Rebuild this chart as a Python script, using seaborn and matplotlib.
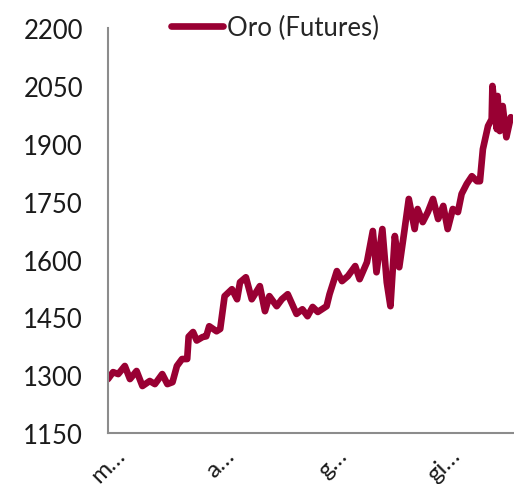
import pandas as pd
import numpy as np
import matplotlib.pyplot as plt
import matplotlib.transforms as mtransforms
import seaborn as sns

# Dati (prezzo future oro, USD/oz)
date = ['2019-03-01', '2019-03-08', '2019-03-15', '2019-03-24', '2019-03-31',
        '2019-04-09', '2019-04-17', '2019-04-27', '2019-05-04', '2019-05-14',
        '2019-05-21', '2019-05-28', '2019-06-03', '2019-06-10', '2019-06-17',
        '2019-06-19', '2019-06-25', '2019-06-30', '2019-07-08', '2019-07-13',
        '2019-07-17', '2019-07-27', '2019-08-01', '2019-08-07', '2019-08-17',
        '2019-08-24', '2019-08-28', '2019-09-05', '2019-09-13', '2019-09-24',
        '2019-10-01', '2019-10-07', '2019-10-17', '2019-10-24', '2019-11-01',
        '2019-11-13', '2019-11-21', '2019-11-28', '2019-12-05', '2019-12-12',
        '2019-12-24', '2019-12-28', '2020-01-07', '2020-01-14', '2020-01-22',
        '2020-02-01', '2020-02-07', '2020-02-17', '2020-02-25', '2020-03-01',
        '2020-03-09', '2020-03-15', '2020-03-20', '2020-03-26', '2020-04-01',
        '2020-04-08', '2020-04-14', '2020-04-22', '2020-04-26', '2020-05-03',
        '2020-05-10', '2020-05-17', '2020-05-24', '2020-05-31', '2020-06-06',
        '2020-06-13', '2020-06-20', '2020-06-25', '2020-07-02', '2020-07-09',
        '2020-07-16', '2020-07-20', '2020-07-24', '2020-07-31', '2020-08-05',
        '2020-08-06', '2020-08-12', '2020-08-13', '2020-08-16', '2020-08-20',
        '2020-08-25', '2020-08-31']
oro = [1290, 1308, 1303, 1324, 1290,
       1311, 1272, 1285, 1277, 1303,
       1277, 1282, 1324, 1342, 1342,
       1400, 1412, 1390, 1399, 1401,
       1427, 1414, 1420, 1505, 1523,
       1497, 1541, 1554, 1497, 1531,
       1466, 1505, 1479, 1497, 1510,
       1459, 1471, 1453, 1477, 1464,
       1479, 1510, 1570, 1544, 1557,
       1583, 1549, 1593, 1674, 1567,
       1679, 1541, 1479, 1661, 1580,
       1674, 1757, 1679, 1731, 1697,
       1723, 1757, 1705, 1739, 1679,
       1731, 1723, 1770, 1796, 1816,
       1803, 1803, 1886, 1946, 1964,
       2050, 1938, 2024, 1933, 1998,
       1917, 1969]
tick_date = ['2019-03-01', '2019-08-01', '2020-01-01', '2020-06-01']
tick_lab = ['m…', 'a…', 'g…', 'gi…']
y_ticks = [1150, 1300, 1450, 1600, 1750, 1900, 2050, 2200]

df = pd.DataFrame({'Data': pd.to_datetime(date), 'Oro (Futures)': oro})

sns.set_style('white')
plt.rcParams['font.family'] = ['Lato', 'DejaVu Sans']

fig = plt.figure(figsize=(5.14, 4.85), dpi=100)
ax = fig.add_axes([0.210, 0.105, 0.788, 0.835])

sns.lineplot(data=df, x='Data', y='Oro (Futures)', color='#990033',
             linewidth=4.8, ax=ax, legend=False)

ax.set_ylim(1150, 2200)
ax.set_yticks(y_ticks)
ax.set_xlim(pd.Timestamp('2019-03-01'), pd.Timestamp('2020-09-03'))
ax.set_xticks(pd.to_datetime(tick_date))
ax.set_xticklabels(tick_lab, rotation=45, ha='center', fontsize=17.5)
offset = mtransforms.ScaledTranslation(9 / 100, 3 / 100, fig.dpi_scale_trans)
for lab in ax.get_xticklabels():
    lab.set_transform(lab.get_transform() + offset)

ax.set_xlabel('')
ax.set_ylabel('')
for s in ['top', 'right']:
    ax.spines[s].set_visible(False)
for s in ['left', 'bottom']:
    ax.spines[s].set_color('#8c8c8c')
    ax.spines[s].set_linewidth(1.5)
ax.tick_params(axis='both', colors='#8c8c8c', length=6, width=1.5,
               labelcolor='#1a1a1a', direction='out')
ax.tick_params(axis='y', pad=12, labelsize=18.5)
ax.tick_params(axis='x', pad=2)

fig.legend([ax.get_lines()[0]], ['Oro (Futures)'], loc='upper center',
           bbox_to_anchor=(0.535, 1.015), frameon=False, fontsize=18.5,
           handlelength=2.0, handletextpad=0.15)

fig.savefig('out.png', dpi=100)
